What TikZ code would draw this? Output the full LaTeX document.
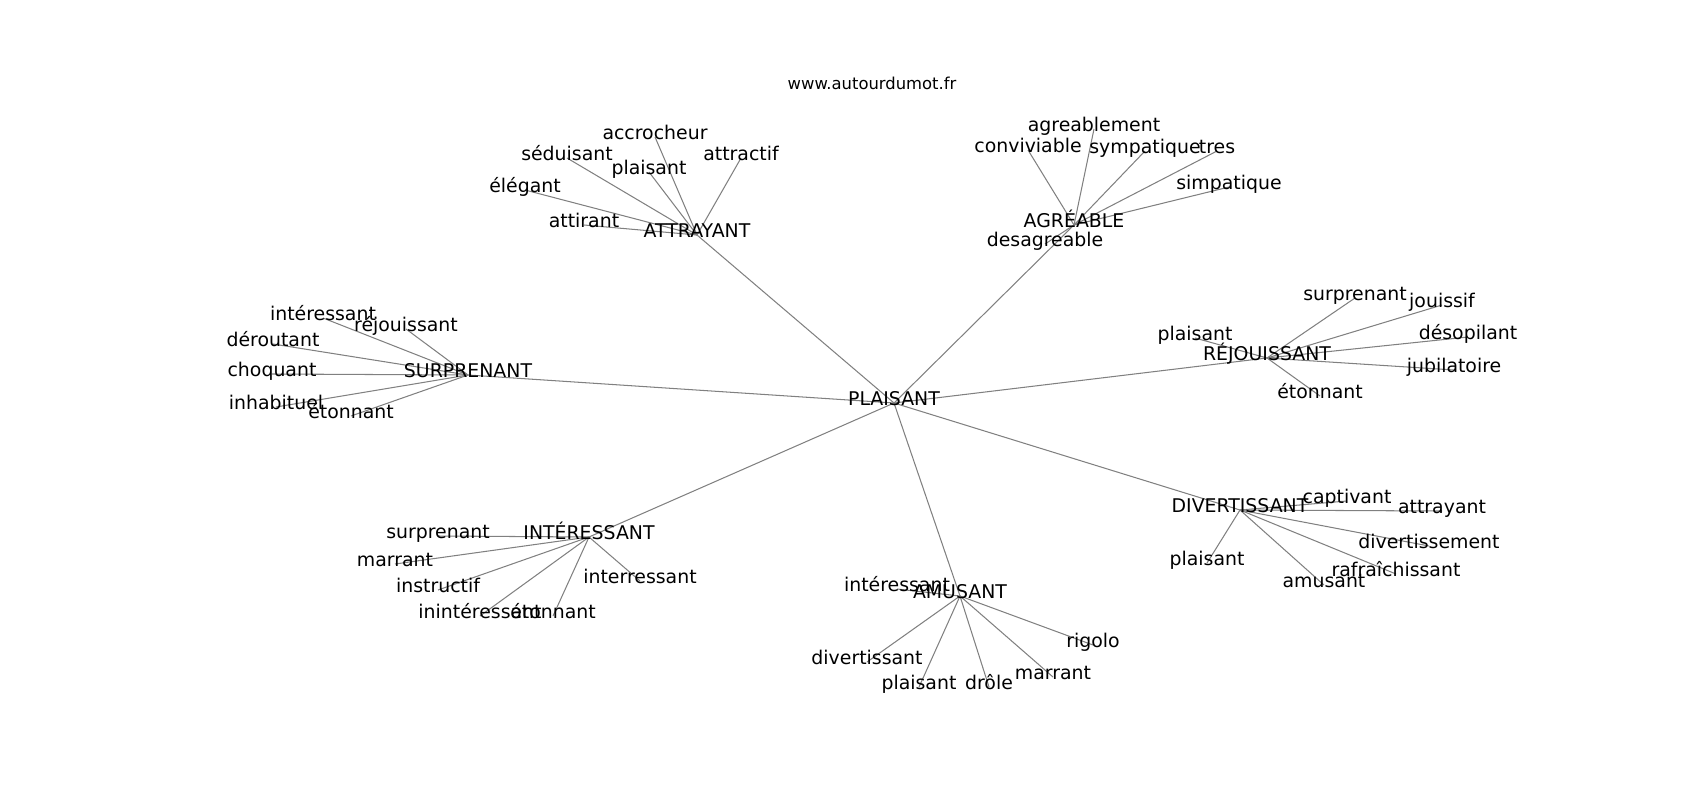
\documentclass[tikz,border=0pt]{standalone}
\usepackage{fontspec}
\setmainfont{DejaVu Sans}
\usetikzlibrary{backgrounds}
\tikzset{
  lbl/.style={inner sep=0pt, text height=0.62em, text depth=0.3em, anchor=center, font=\fontsize{13.6pt}{16pt}\selectfont, text=black},
  ttl/.style={inner sep=0pt, anchor=base, font=\fontsize{11.8pt}{14pt}\selectfont, text=black},
  edge/.style={draw=black!50, line width=0.75pt}
}
\begin{document}
\begin{tikzpicture}[x=0.72pt, y=-0.72pt]
\useasboundingbox (0,0) rectangle (1700,800);
\node[ttl] (title) at (872,89) {www.autourdumot.fr};
% center
\node[lbl] (P) at (894,403) {PLAISANT};
% hubs
\node[lbl] (ATT) at (697,235) {ATTRAYANT};
\node[lbl] (AGR) at (1074,225) {AGRÉABLE};
\node[lbl] (SUR) at (468,375) {SURPRENANT};
\node[lbl] (REJ) at (1267,358) {RÉJOUISSANT};
\node[lbl] (INT) at (589,537) {INTÉRESSANT};
\node[lbl] (AMU) at (960,596) {AMUSANT};
\node[lbl] (DIV) at (1240,510) {DIVERTISSANT};
% ATTRAYANT leaves
\node[lbl] (a1) at (655,137) {accrocheur};
\node[lbl] (a2) at (567,158) {séduisant};
\node[lbl] (a3) at (741,158) {attractif};
\node[lbl] (a4) at (649,172) {plaisant};
\node[lbl] (a5) at (525,190) {élégant};
\node[lbl] (a6) at (584,225) {attirant};
% AGREABLE leaves
\node[lbl] (g1) at (1094,129) {agreablement};
\node[lbl] (g2) at (1028,150) {conviviable};
\node[lbl] (g3) at (1145,151) {sympatique};
\node[lbl] (g4) at (1217,151) {tres};
\node[lbl] (g5) at (1229,187) {simpatique};
\node[lbl] (g6) at (1045,244) {desagreable};
% SURPRENANT leaves
\node[lbl] (s1) at (323,318) {intéressant};
\node[lbl] (s2) at (406,329) {réjouissant};
\node[lbl] (s3) at (273,344) {déroutant};
\node[lbl] (s4) at (272,374) {choquant};
\node[lbl] (s5) at (276,407) {inhabituel};
\node[lbl] (s6) at (351,416) {étonnant};
% REJOUISSANT leaves
\node[lbl] (r1) at (1355,298) {surprenant};
\node[lbl] (r2) at (1442,305) {jouissif};
\node[lbl] (r3) at (1195,338) {plaisant};
\node[lbl] (r4) at (1468,337) {désopilant};
\node[lbl] (r5) at (1454,370) {jubilatoire};
\node[lbl] (r6) at (1320,396) {étonnant};
% INTERESSANT leaves
\node[lbl] (i1) at (438,536) {surprenant};
\node[lbl] (i2) at (395,564) {marrant};
\node[lbl] (i3) at (438,590) {instructif};
\node[lbl] (i4) at (640,581) {interressant};
\node[lbl] (i5) at (480,616) {inintéressant};
\node[lbl] (i6) at (553,616) {étonnant};
% DIVERTISSANT leaves
\node[lbl] (d1) at (1347,501) {captivant};
\node[lbl] (d2) at (1442,511) {attrayant};
\node[lbl] (d3) at (1429,546) {divertissement};
\node[lbl] (d4) at (1396,574) {rafraîchissant};
\node[lbl] (d5) at (1207,563) {plaisant};
\node[lbl] (d6) at (1324,585) {amusant};
% AMUSANT leaves
\node[lbl] (m1) at (897,589) {intéressant};
\node[lbl] (m2) at (1093,645) {rigolo};
\node[lbl] (m3) at (867,662) {divertissant};
\node[lbl] (m4) at (1053,677) {marrant};
\node[lbl] (m5) at (919,687) {plaisant};
\node[lbl] (m6) at (989,687) {drôle};
\begin{scope}[on background layer]
\foreach \h in {ATT,AGR,SUR,REJ,INT,AMU,DIV} \draw[edge] (P.center) -- (\h.center);
\foreach \l in {a1,a2,a3,a4,a5,a6} \draw[edge] (ATT.center) -- (\l.center);
\foreach \l in {g1,g2,g3,g4,g5,g6} \draw[edge] (AGR.center) -- (\l.center);
\foreach \l in {s1,s2,s3,s4,s5,s6} \draw[edge] (SUR.center) -- (\l.center);
\foreach \l in {r1,r2,r3,r4,r5,r6} \draw[edge] (REJ.center) -- (\l.center);
\foreach \l in {i1,i2,i3,i4,i5,i6} \draw[edge] (INT.center) -- (\l.center);
\foreach \l in {d1,d2,d3,d4,d5,d6} \draw[edge] (DIV.center) -- (\l.center);
\foreach \l in {m1,m2,m3,m4,m5,m6} \draw[edge] (AMU.center) -- (\l.center);
\end{scope}
\end{tikzpicture}
\end{document}
